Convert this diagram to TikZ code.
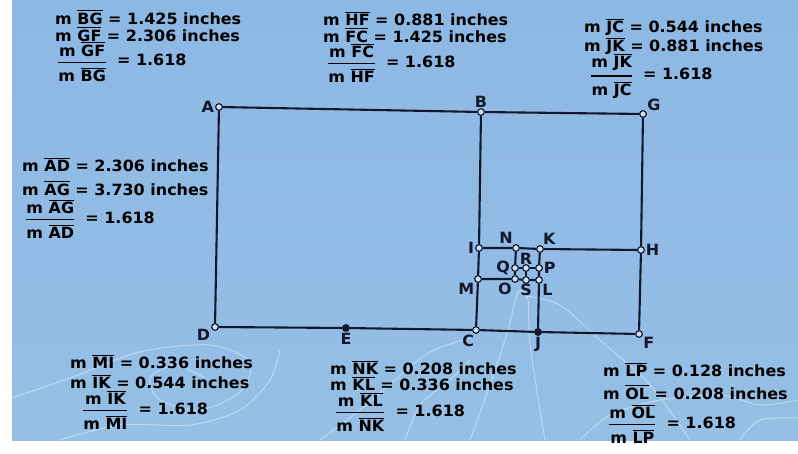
\documentclass[tikz,border=0pt]{standalone}
\usepackage{amsmath}
\usepackage{fontspec}
\setmainfont{DejaVu Sans}
\newfontfamily\measfont{DejaVu Sans Bold}[FakeStretch=1.03]
\usepackage{xcolor}

\definecolor{board}{RGB}{128,173,221}
\definecolor{boardtop}{RGB}{140,184,228}
\definecolor{boardlow}{RGB}{150,191,229}
\definecolor{ink}{RGB}{20,24,45}

\newcommand{\sg}[1]{$\overline{\mbox{#1}}$}
\newcommand{\ratio}[2]{$\genfrac{}{}{1.5pt}{0}{\mbox{m \sg{#1}}}{\mbox{m \sg{#2}}}$\hspace{10pt}= 1.618}

\tikzset{
  pt/.style={circle, draw=ink, fill=white!60!board, line width=1pt, inner sep=0pt, minimum size=6.5pt},
  ptd/.style={pt, fill=ink},
  seg/.style={draw=ink, line width=2.1pt, line join=round},
  lbl/.style={font=\measfont\fontsize{15.5}{16}\selectfont, text=ink, inner sep=1pt},
  meas/.style={font=\measfont\fontsize{15.5}{17}\selectfont, text=black, inner sep=0pt, anchor=west},
  swirl/.style={white, opacity=0.4, line width=1pt},
}

\begin{document}
\begin{tikzpicture}[x=1pt, y=-1pt]
        \useasboundingbox (0,0) rectangle (798,454);
        \shade [top color=boardtop, middle color=board, bottom color=boardlow] (12,0) rectangle (798,440);

        % background swirls
        \draw [swirl] plot [smooth] coordinates {(12,398) (70,378) (140,352) (210,345) (250,362) (240,392) (200,410) (160,400) (150,378) (175,365) (205,378)};
        \draw [swirl] plot [smooth] coordinates {(60,440) (120,425) (190,425) (240,410) (270,380) (280,350)};
        \draw [swirl] plot [smooth] coordinates {(320,440) (360,410) (395,380) (430,352) (470,338)};
        \draw [swirl] plot [smooth] coordinates {(405,440) (420,405) (450,380) (470,360)};
        \draw [swirl] plot [smooth] coordinates {(470,440) (490,385) (508,330) (518,292) (528,300) (530,345) (545,440)};
        \draw [swirl] plot [smooth] coordinates {(525,296) (560,305) (600,340) (650,385) (690,440)};
        \draw [swirl] plot [smooth] coordinates {(580,440) (610,415) (660,400) (720,395) (760,405) (798,400)};
        \draw [swirl] plot [smooth] coordinates {(740,440) (760,420) (798,418)};

        % points
        \node [pt, label={[lbl]left:A}] (A) at (219,107) {};
        \node [pt, label={[lbl]above:B}] (B) at (481,112) {};
        \node [pt, label={[lbl]35:G}] (G) at (643,114) {};
        \node [pt, label={[lbl]190:D}] (D) at (215,327) {};
        \node [ptd, label={[lbl]below:E}] (E) at (346,328) {};
        \node [pt, label={[lbl]260:C}] (C) at (476,330) {};
        \node [ptd, label={[lbl]below:J}] (J) at (538,332) {};
        \node [pt, label={[lbl]-30:F}] (F) at (639,334) {};
        \node [pt, label={[lbl]right:H}] (H) at (641,250) {};
        \node [pt, label={[lbl]left:I}] (I) at (479,248) {};
        \node [pt, label={[lbl]125:N}] (N) at (516,248) {};
        \node [pt, label={[lbl]60:K}] (K) at (540,249) {};
        \node [pt, label={[lbl]225:M}] (M) at (478,279) {};
        \node [pt, label={[lbl]235:O}] (O) at (515,279) {};
        \node [pt, label={[lbl]-55:L}] (L) at (539,280) {};
        \node [pt, label={[lbl]left:Q}] (Q) at (515,268) {};
        \node [pt, label={[lbl,inner sep=0pt]above:R}] (R) at (526,268) {};
        \node [pt, label={[lbl]right:P}] (P) at (539,268) {};
        \node [pt, label={[lbl,inner sep=0pt]below:S}] (S) at (526,280) {};

        % golden rectangles
        \draw [seg] (A) -- (B) -- (G) -- (H) -- (F) -- (J) -- (C) -- (E) -- (D) -- (A);
        \draw [seg] (B) -- (I) -- (M) -- (C);
        \draw [seg] (I) -- (N) -- (K) -- (H);
        \draw [seg] (K) -- (P) -- (L) -- (J);
        \draw [seg] (M) -- (O) -- (S) -- (L);
        \draw [seg] (N) -- (Q) -- (O);
        \draw [seg] (Q) -- (R) -- (P);
        \draw [seg] (R) -- (S);

        % redraw points over the lines
        \foreach \p in {A,B,G,D,C,F,H,I,N,K,M,O,L,Q,R,P,S}
            \node [pt] at (\p) {};
        \foreach \p in {E,J}
            \node [ptd] at (\p) {};

        % measurements
        \node [meas] (bg) at (55,17) {m \sg{BG} = 1.425 inches};
        \node [meas] (gf) at (55,34) {m \sg{GF} = 2.306 inches};
        \node [meas] (rgf) at (57,62) {\ratio{GF}{BG}};

        \node [meas] (hf) at (323,19) {m \sg{HF} = 0.881 inches};
        \node [meas] (fc) at (323,35) {m \sg{FC} = 1.425 inches};
        \node [meas] (rfc) at (327,63) {\ratio{FC}{HF}};

        \node [meas] (jc) at (584,27) {m \sg{JC} = 0.544 inches};
        \node [meas] (jk) at (584,46) {m \sg{JK} = 0.881 inches};
        \node [meas] (rjk) at (590,76) {\ratio{JK}{JC}};

        \node [meas] (ad) at (22,165) {m \sg{AD} = 2.306 inches};
        \node [meas] (ag) at (22,188) {m \sg{AG} = 3.730 inches};
        \node [meas] (rag) at (25,219) {\ratio{AG}{AD}};

        \node [meas] (mi) at (70,362) {m \sg{MI} = 0.336 inches};
        \node [meas] (ik) at (70,382) {m \sg{IK} = 0.544 inches};
        \node [meas] (rik) at (82,410) {\ratio{IK}{MI}};

        \node [meas] (nk) at (330,368) {m \sg{NK} = 0.208 inches};
        \node [meas] (kl) at (330,384) {m \sg{KL} = 0.336 inches};
        \node [meas] (rkl) at (335,412) {\ratio{KL}{NK}};

        \node [meas] (lp) at (603,370) {m \sg{LP} = 0.128 inches};
        \node [meas] (ol) at (603,392) {m \sg{OL} = 0.208 inches};
        \node [meas] (rol) at (608,424) {\ratio{OL}{LP}};
\end{tikzpicture}
\end{document}
